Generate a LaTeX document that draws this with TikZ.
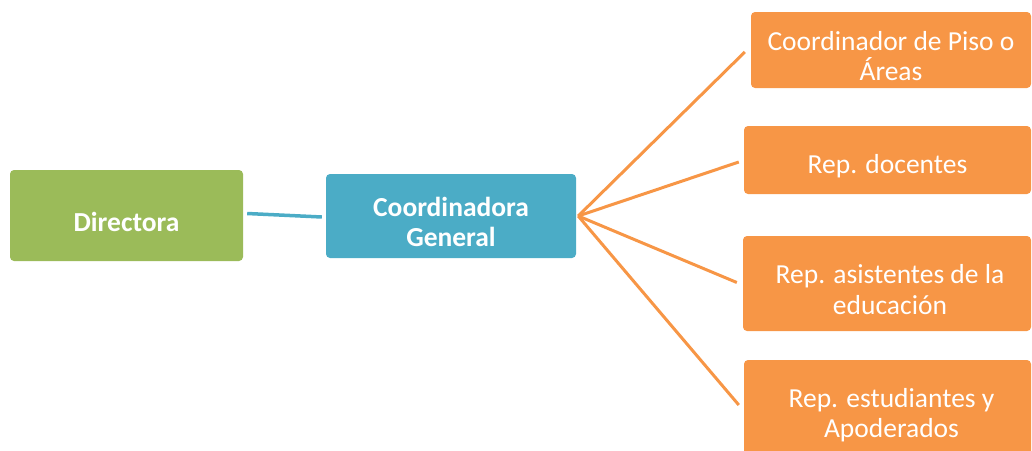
\documentclass[tikz,border=0pt]{standalone}
\usepackage{fontspec}
\setmainfont{Carlito}
\usetikzlibrary{calc}
\definecolor{cgreen}{HTML}{9BBB59}
\definecolor{cblue}{HTML}{4BACC6}
\definecolor{corange}{HTML}{F79646}
\begin{document}
\begin{tikzpicture}[x=1pt,y=-1pt,
  box/.style={rectangle, rounded corners=4pt, inner sep=0pt},
  boxtext/.style={inner sep=0pt, align=center, text=white, font=\fontsize{27.5}{30.5}\selectfont},
  boldtext/.style={boxtext, font=\fontsize{27.5}{30.5}\selectfont\bfseries},
  greenbox/.style={box, fill=cgreen},
  bluebox/.style={box, fill=cblue},
  orangebox/.style={box, fill=corange},
  orangeline/.style={draw=corange, line width=3pt},
  blueline/.style={draw=cblue, line width=3.5pt}]
\useasboundingbox (0,0) rectangle (1032,450);
\clip (0,0) rectangle (1032,450);
\node[greenbox, minimum width=233pt, minimum height=91pt] (dir) at (126.5,215.5) {};
\node[bluebox, minimum width=250pt, minimum height=84pt] (cg) at (451,216) {};
\node[orangebox, minimum width=280pt, minimum height=76pt] (b1) at (891,50) {};
\node[orangebox, minimum width=287pt, minimum height=68pt] (b2) at (887.5,160) {};
\node[orangebox, minimum width=288pt, minimum height=95pt] (b3) at (887,283.5) {};
\node[orangebox, minimum width=287pt, minimum height=108pt] (b4) at (887.5,414) {};
\node[boldtext] (tdir) at ($(dir)+(0,6)$) {Directora};
\node[boldtext] (tcg) at ($(cg)+(0,6)$) {Coordinadora\\General};
\node[boxtext] (t1) at ($(b1)+(0,6)$) {Coordinador de Piso o\\Áreas};
\node[boxtext] (t2) at ($(b2)+(0,6)$) {Rep. docentes};
\node[boxtext] (t3) at ($(b3)+(3,6)$) {Rep. asistentes de la\\educación};
\node[boxtext] (t4) at ($(b4)+(4,1)$) {Rep. estudiantes y\\Apoderados};
\coordinate (hub) at ($(cg.east)+(2,0)$);
\coordinate (e1) at ($(b1.west)+(-6,2)$);
\coordinate (e2) at ($(b2.west)+(-5,2)$);
\coordinate (e3) at ($(b3.west)+(-6,-1)$);
\coordinate (e4) at ($(b4.west)+(-5,-9)$);
\draw[orangeline] (hub) -- (e1);
\draw[orangeline] (hub) -- (e2);
\draw[orangeline] (hub) -- (e3);
\draw[orangeline] (hub) -- (e4);
\draw[blueline] ($(dir.east)+(4,-2)$) -- ($(cg.west)+(-4,1)$);
\end{tikzpicture}
\end{document}
